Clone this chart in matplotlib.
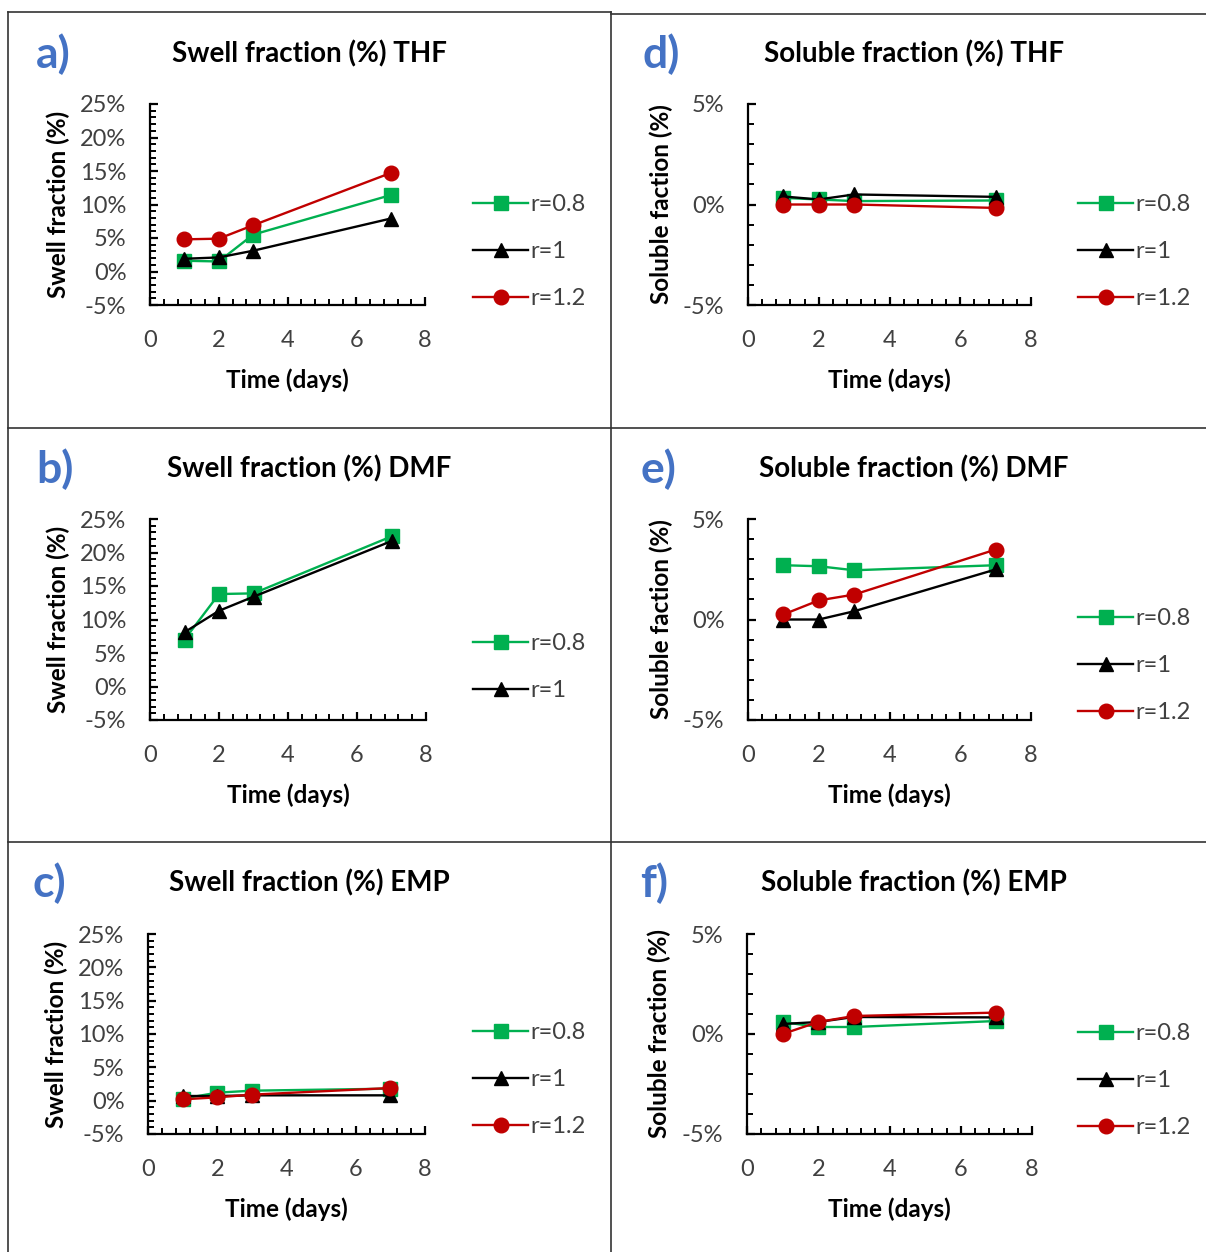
import matplotlib
matplotlib.use('Agg')
import matplotlib.pyplot as plt
from matplotlib.lines import Line2D
from matplotlib.ticker import MultipleLocator, FuncFormatter

plt.rcParams['font.family'] = ['Lato', 'DejaVu Sans']

W, H = 1206, 1252

days = [1, 2, 3, 7]
series_names = ['r=0.8', 'r=1', 'r=1.2']

# swell fraction (%)
swell_thf_08 = [1.6, 1.5, 5.5, 11.4]
swell_thf_1 = [1.9, 2.1, 3.1, 7.9]
swell_thf_12 = [4.8, 4.9, 6.9, 14.7]
swell_dmf_08 = [7.0, 13.8, 13.9, 22.4]
swell_dmf_1 = [8.1, 11.3, 13.4, 21.7]
swell_emp_08 = [0.3, 1.2, 1.5, 1.8]
swell_emp_1 = [0.7, 0.7, 0.8, 0.8]
swell_emp_12 = [0.2, 0.5, 0.9, 1.9]

# soluble fraction (%)
sol_thf_08 = [0.33, 0.25, 0.17, 0.2]
sol_thf_1 = [0.4, 0.25, 0.5, 0.38]
sol_thf_12 = [0.0, 0.0, 0.0, -0.17]
sol_dmf_08 = [2.7, 2.65, 2.45, 2.7]
sol_dmf_1 = [0.0, 0.0, 0.41, 2.49]
sol_dmf_12 = [0.25, 0.95, 1.24, 3.48]
sol_emp_08 = [0.6, 0.35, 0.35, 0.65]
sol_emp_1 = [0.5, 0.6, 0.85, 0.83]
sol_emp_12 = [0.0, 0.6, 0.9, 1.07]

colors = ['#00B050', '#000000', '#C00000']
markers = ['s', '^', 'o']
grey = '#404040'

fig = plt.figure(figsize=(W / 100, H / 100), dpi=100)


def fx(x):
    return x / W


def fy(y):
    return 1 - y / H


panels = [
    # letter, title, ylabel, data, ylim, axes px box, legend px pos, letter/title px
    ('a)', 'Swell fraction (%) THF', 'Swell fraction (%)',
     [swell_thf_08, swell_thf_1, swell_thf_12], (-5, 25), (150, 425, 104, 305), (473, 194), (53, 309, 54)),
    ('b)', 'Swell fraction (%) DMF', 'Swell fraction (%)',
     [swell_dmf_08, swell_dmf_1], (-5, 25), (150, 426, 519, 720), (473, 633), (55, 309, 469)),
    ('c)', 'Swell fraction (%) EMP', 'Swell fraction (%)',
     [swell_emp_08, swell_emp_1, swell_emp_12], (-5, 25), (148, 425, 934, 1134), (473, 1022), (49, 309, 883)),
    ('d)', 'Soluble fraction (%) THF', 'Soluble faction (%)',
     [sol_thf_08, sol_thf_1, sol_thf_12], (-5, 5), (748, 1031, 104, 305), (1078, 194), (661, 914, 54)),
    ('e)', 'Soluble fraction (%) DMF', 'Soluble faction (%)',
     [sol_dmf_08, sol_dmf_1, sol_dmf_12], (-5, 5), (748, 1031, 519, 720), (1078, 608), (658, 914, 469)),
    ('f)', 'Soluble fraction (%) EMP', 'Soluble fraction (%)',
     [sol_emp_08, sol_emp_1, sol_emp_12], (-5, 5), (747, 1032, 934, 1134), (1078, 1023), (654, 914, 883)),
]

for letter, title, ylab, data, ylim, box, legpos, txtpos in panels:
    x0, x1, yt, yb = box
    ax = fig.add_axes([fx(x0), fy(yb), (x1 - x0) / W, (yb - yt) / H])
    for i, vals in enumerate(data):
        ax.plot(days, vals, color=colors[i], marker=markers[i], markersize=10.5,
                linewidth=1.7, label=series_names[i])
    ax.set_xlim(0, 8)
    ax.set_ylim(*ylim)
    ax.xaxis.set_major_locator(MultipleLocator(2))
    ax.xaxis.set_minor_locator(MultipleLocator(0.4))
    ax.yaxis.set_major_locator(MultipleLocator(5))
    ax.yaxis.set_minor_locator(MultipleLocator(1))
    ax.yaxis.set_major_formatter(FuncFormatter(lambda v, p: '%d%%' % round(v)))
    ax.spines['top'].set_visible(False)
    ax.spines['right'].set_visible(False)
    ax.spines['left'].set_linewidth(1.6)
    ax.spines['bottom'].set_linewidth(1.6)
    ax.tick_params(which='major', direction='in', length=6, width=1.6,
                   labelsize=17, labelcolor=grey)
    ax.tick_params(which='minor', direction='in', length=4, width=1.4)
    ax.tick_params(axis='y', which='major', pad=17)
    ax.tick_params(axis='x', which='major', pad=18)
    ax.set_xlabel('Time (days)', fontsize=17.5, fontweight='bold')
    ax.xaxis.set_label_coords(0.5, -0.315)
    ax.set_ylabel(ylab, fontsize=17.5, fontweight='bold')
    ax.yaxis.set_label_coords(-0.29 if ylim[1] > 5 else -0.265, 0.5)
    ax.legend(loc='upper left', bbox_to_anchor=(fx(legpos[0]), fy(legpos[1])),
              bbox_transform=fig.transFigure, frameon=False, fontsize=17,
              handlelength=2.35, handletextpad=0.1, labelspacing=1.1,
              markerscale=1.0, borderpad=0, borderaxespad=0,
              labelcolor=grey)
    fig.text(fx(txtpos[0]), fy(txtpos[2]), letter, color='#4472C4', fontsize=32,
             fontweight='bold', ha='center', va='center')
    fig.text(fx(txtpos[1]), fy(txtpos[2]), title, fontsize=20, fontweight='bold',
             ha='center', va='center')

# panel frames
frame_lines = [
    ((8, 611), (12, 12)), ((611, 1206), (14, 14)),
    ((8, 1206), (428, 428)), ((8, 1206), (842, 842)),
    ((8, 8), (12, 1252)), ((611, 611), (12, 1252)),
]
for xs, ys in frame_lines:
    fig.add_artist(Line2D([fx(xs[0]), fx(xs[1])], [fy(ys[0]), fy(ys[1])],
                          color='#333333', linewidth=1.2, transform=fig.transFigure))

fig.savefig('out.png', dpi=100, facecolor='white')
